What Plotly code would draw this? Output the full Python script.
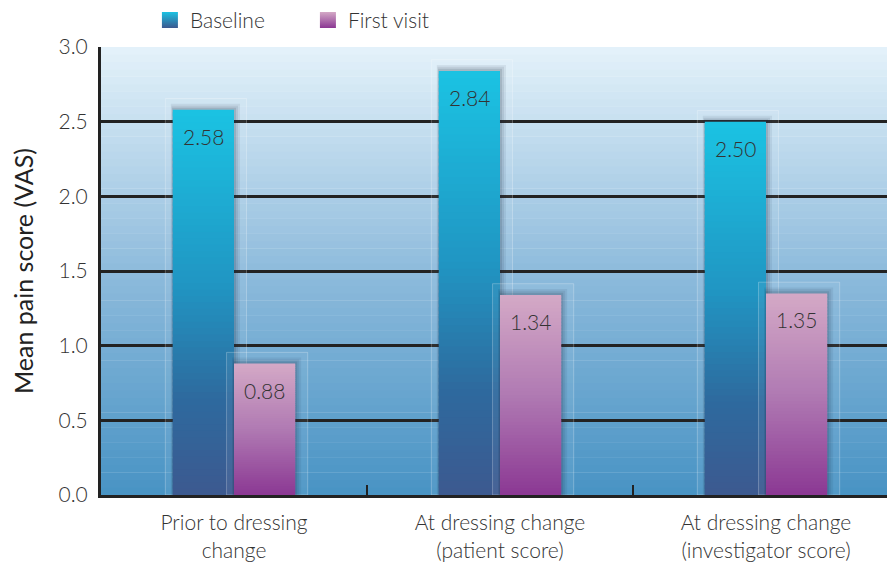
import plotly.graph_objects as go

categories = ["Prior to dressing<br>change", "At dressing change<br>(patient score)", "At dressing change<br>(investigator score)"]
series_names = ["Baseline", "First visit"]
baseline = [2.58, 2.84, 2.50]
first_visit = [0.88, 1.34, 1.35]
value_labels_base = ["2.58", "2.84", "2.50"]
value_labels_first = ["0.88", "1.34", "1.35"]
y_ticks = [0.0, 0.5, 1.0, 1.5, 2.0, 2.5, 3.0]
y_ticklabels = ["0.0", "0.5", "1.0", "1.5", "2.0", "2.5", "3.0"]

FONT = "Lato, 'Open Sans', sans-serif"
TXT = "#333333"
N = 60
W = 0.23


def hex2rgb(h):
    h = h.lstrip("#")
    return [int(h[i:i + 2], 16) for i in (0, 2, 4)]


def interp(stops, t):
    for k in range(len(stops) - 1):
        t0, c0 = stops[k]
        t1, c1 = stops[k + 1]
        if t0 <= t <= t1:
            f = (t - t0) / (t1 - t0) if t1 > t0 else 0
            a, b = hex2rgb(c0), hex2rgb(c1)
            return "rgb(%d,%d,%d)" % tuple(round(a[i] + (b[i] - a[i]) * f) for i in range(3))
    return stops[-1][1]


base_stops = [(0.0, "#3C5990"), (0.25, "#2E6A9E"), (0.55, "#2096C3"), (1.0, "#1BC3E3")]
first_stops = [(0.0, "#8B3893"), (0.5, "#B07AB3"), (1.0, "#D4A9C6")]
bg_stops = [(0.0, "#4893C4"), (0.5, "#8EBBDC"), (1.0, "#E4F2FA")]

fig = go.Figure()

# background gradient strips
M = 60
for i in range(M):
    fig.add_shape(type="rect", xref="paper", yref="y", x0=0, x1=1,
                  y0=3.0 * i / M, y1=3.0 * (i + 1) / M + 0.003,
                  fillcolor=interp(bg_stops, (i + 0.5) / M), line_width=0, layer="below")

for vals, off, stops, name, labels in [
    (baseline, -W, base_stops, series_names[0], value_labels_base),
    (first_visit, 0.0, first_stops, series_names[1], value_labels_first),
]:
    # faint back panel (3D box effect)
    fig.add_trace(go.Bar(x=categories, y=[v + 0.075 for v in vals], base=0,
                         offset=off - 0.028, width=W + 0.075,
                         marker=dict(color="rgba(255,255,255,0.06)",
                                     line=dict(color="rgba(255,255,255,0.25)", width=1)),
                         showlegend=False, hoverinfo="skip"))
    # soft shadow (right / top)
    for dx, dy, a in [(0.030, 0.040, 0.07), (0.020, 0.027, 0.09), (0.010, 0.014, 0.12)]:
        fig.add_trace(go.Bar(x=categories, y=[v + dy for v in vals], base=0,
                             offset=off - dx * 0.25, width=W + dx,
                             marker=dict(color="rgba(20,30,50,%.2f)" % a, line_width=0),
                             showlegend=False, hoverinfo="skip"))
    # gradient bar built from stacked segments of each value
    xs, ys, bs, cs = [], [], [], []
    for c, v in zip(categories, vals):
        for i in range(N):
            xs.append(c)
            bs.append(v * i / N)
            ys.append(v / N * (1.0 if i == N - 1 else 1.6))
            cs.append(interp(stops, (i + 0.5) / N))
    fig.add_trace(go.Bar(x=xs, y=ys, base=bs, offset=off, width=W,
                         marker=dict(color=cs, line_width=0),
                         showlegend=False, hoverinfo="skip"))
    # legend entry (square marker with vertical gradient)
    fig.add_trace(go.Scatter(x=[None], y=[None], name=name, mode="markers",
                             marker=dict(symbol="square", size=18, color=interp(stops, 1.0),
                                         gradient=dict(type="vertical", color=interp(stops, 0.0)),
                                         line_width=0),
                             showlegend=True, hoverinfo="skip"))
    # value labels
    for c, v, lab in zip(categories, vals, labels):
        fig.add_annotation(x=c, y=v, text=lab, showarrow=False, yanchor="top",
                           xshift=(off + W / 2) * 266, yshift=-12,
                           font=dict(family=FONT, size=21, color=TXT, weight=300))

# the page body adds an 8px offset; the figure is sized so it ends at the window edge
fig.update_layout(
    width=887, height=556,
    margin=dict(l=93, r=0, t=39, b=69, autoexpand=False),
    barmode="overlay",
    paper_bgcolor="white",
    plot_bgcolor="rgba(0,0,0,0)",
    font=dict(family=FONT, size=20, color=TXT, weight=300),
    legend=dict(orientation="h", x=0.160, xref="container", xanchor="left",
                y=0.978, yref="container", yanchor="middle",
                font=dict(family=FONT, size=21, color=TXT, weight=300), bgcolor="rgba(0,0,0,0)",
                itemsizing="trace", itemwidth=30, entrywidth=113, traceorder="normal"),
    xaxis=dict(range=[-0.5, 2.485], showgrid=False, showline=True, linecolor="#222222",
               linewidth=3, ticks="inside", tickson="boundaries", ticklen=10, tickwidth=2,
               tickcolor="#222222", tickfont=dict(family=FONT, size=21, color=TXT, weight=300),
               ticklabelstandoff=7, fixedrange=True, automargin=False),
    yaxis=dict(range=[0, 3.0], tickvals=y_ticks, ticktext=y_ticklabels, showgrid=True,
               gridcolor="#222222", gridwidth=2.5, showline=True, linecolor="#222222",
               linewidth=3, ticks="", tickfont=dict(family=FONT, size=21, color=TXT, weight=300),
               ticklabelstandoff=6, zeroline=False, automargin=False,
               title=dict(text="Mean pain score (VAS)",
                          font=dict(family=FONT, size=25, color="#222222", weight=400),
                          standoff=23), fixedrange=True),
)

fig.write_html("out.html")
